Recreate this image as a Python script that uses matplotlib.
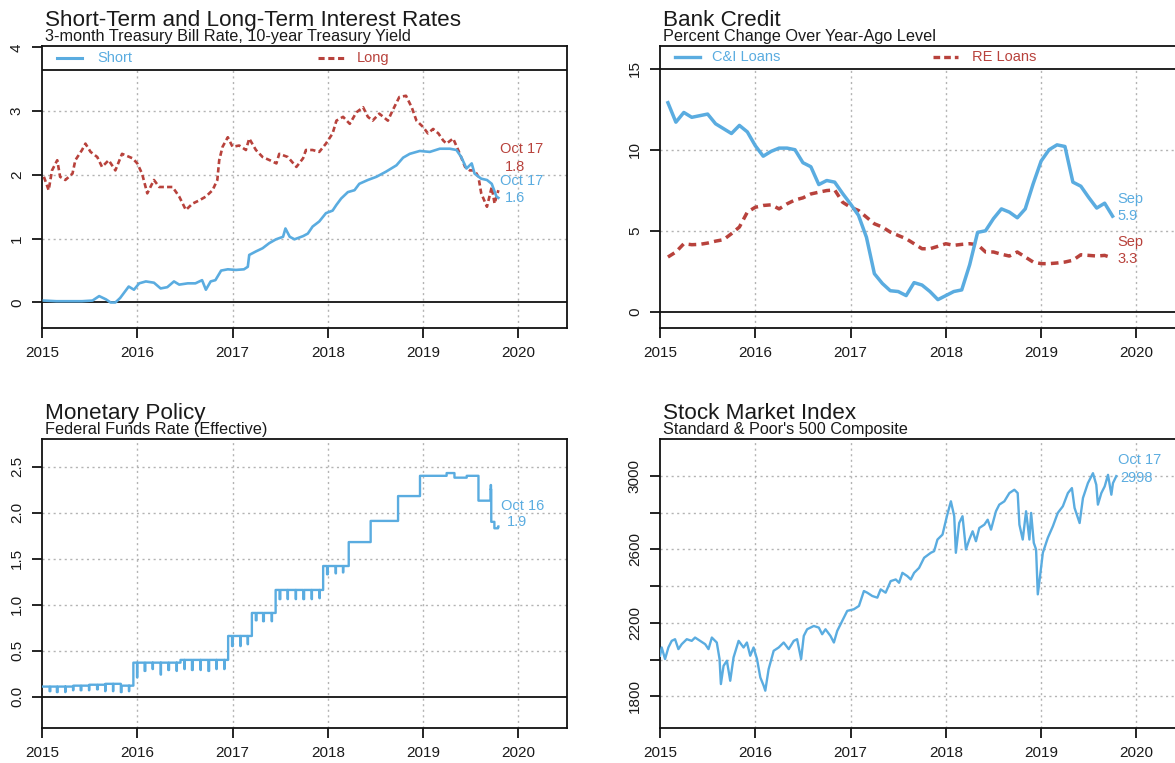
import matplotlib
matplotlib.use("Agg")
import matplotlib.pyplot as plt
import matplotlib.transforms as mtransforms
import numpy as np
import pandas as pd

plt.rcParams['font.family'] = ['Liberation Sans', 'DejaVu Sans']

BLUE = '#5AACE0'
RED = '#B8423C'
DARK = '#1a1a1a'
GRID = '#b3b3b3'

# ---------------- Data ----------------
# Panel 1: 3-month T-bill (short) and 10-year yield (long), decimal years
short_x = [2015.02, 2015.15, 2015.32, 2015.42, 2015.53, 2015.60, 2015.67, 2015.72, 2015.77, 2015.82,
           2015.91, 2015.965, 2016.02, 2016.09, 2016.175, 2016.245, 2016.315, 2016.385, 2016.44, 2016.53,
           2016.61, 2016.68, 2016.72, 2016.77, 2016.82, 2016.88, 2016.95, 2017.035, 2017.12, 2017.16,
           2017.175, 2017.245, 2017.315, 2017.385, 2017.456, 2017.53, 2017.555, 2017.60, 2017.65, 2017.74,
           2017.79, 2017.84, 2017.91, 2017.98, 2018.05, 2018.09, 2018.14, 2018.21, 2018.28, 2018.33,
           2018.42, 2018.51, 2018.61, 2018.72, 2018.79, 2018.86, 2018.965, 2019.07, 2019.175, 2019.28,
           2019.35, 2019.40, 2019.455, 2019.51, 2019.54, 2019.61, 2019.67, 2019.72, 2019.77, 2019.79]
short_v = [0.03, 0.02, 0.02, 0.02, 0.03, 0.10, 0.05, 0.00, 0.00, 0.07,
           0.25, 0.20, 0.30, 0.33, 0.31, 0.22, 0.24, 0.33, 0.28, 0.30,
           0.30, 0.35, 0.20, 0.33, 0.35, 0.50, 0.52, 0.51, 0.52, 0.56,
           0.745, 0.80, 0.85, 0.93, 0.99, 1.03, 1.16, 1.03, 0.99, 1.04,
           1.08, 1.19, 1.27, 1.40, 1.44, 1.53, 1.63, 1.73, 1.76, 1.86,
           1.92, 1.97, 2.05, 2.15, 2.27, 2.33, 2.375, 2.36, 2.41, 2.41,
           2.39, 2.28, 2.10, 2.18, 2.02, 1.94, 1.92, 1.86, 1.66, 1.64]
long_x = [2015.02, 2015.07, 2015.105, 2015.16, 2015.19, 2015.245, 2015.32, 2015.35, 2015.42, 2015.456,
          2015.51, 2015.58, 2015.63, 2015.70, 2015.77, 2015.84, 2015.95, 2016.0, 2016.05, 2016.105,
          2016.175, 2016.23, 2016.30, 2016.37, 2016.44, 2016.51, 2016.58, 2016.65, 2016.72, 2016.79,
          2016.84, 2016.86, 2016.895, 2016.95, 2017.0, 2017.07, 2017.14, 2017.175, 2017.245, 2017.315,
          2017.39, 2017.46, 2017.49, 2017.58, 2017.67, 2017.74, 2017.77, 2017.84, 2017.91, 2017.98,
          2018.05, 2018.09, 2018.16, 2018.23, 2018.30, 2018.37, 2018.42, 2018.47, 2018.54, 2018.63,
          2018.68, 2018.75, 2018.82, 2018.88, 2018.93, 2019.0, 2019.05, 2019.105, 2019.16, 2019.21,
          2019.245, 2019.315, 2019.385, 2019.44, 2019.49, 2019.54, 2019.58, 2019.61, 2019.67, 2019.72,
          2019.75, 2019.79]
long_v = [1.97, 1.76, 2.07, 2.23, 1.97, 1.92, 2.02, 2.23, 2.39, 2.49,
          2.36, 2.28, 2.125, 2.23, 2.07, 2.33, 2.26, 2.18, 2.02, 1.71,
          1.92, 1.81, 1.81, 1.81, 1.66, 1.45, 1.55, 1.60, 1.66, 1.76,
          1.92, 2.23, 2.44, 2.59, 2.44, 2.46, 2.39, 2.57, 2.39, 2.28,
          2.23, 2.18, 2.33, 2.28, 2.125, 2.26, 2.39, 2.39, 2.36, 2.49,
          2.65, 2.85, 2.91, 2.80, 2.98, 3.06, 2.91, 2.85, 2.96, 2.85,
          3.01, 3.22, 3.24, 3.06, 2.85, 2.75, 2.65, 2.72, 2.65, 2.54,
          2.49, 2.57, 2.33, 2.125, 2.07, 2.07, 1.97, 1.71, 1.50, 1.81,
          1.55, 1.76]

# Panel 2: bank credit, % change over year-ago, monthly Jan 2015 - Sep 2019
credit_months = pd.period_range("2015-01", "2019-09", freq="M")
ci_loans = [12.9, 11.7, 12.3, 12.0, 12.1, 12.2, 11.6, 11.3, 11.0, 11.5, 11.1, 10.25,
            9.6, 9.9, 10.1, 10.1, 10.0, 9.2, 8.95, 7.85, 8.1, 8.0, 7.3, 6.65,
            5.95, 4.6, 2.35, 1.75, 1.3, 1.25, 1.0, 1.8, 1.65, 1.25, 0.75, 1.0,
            1.25, 1.35, 2.9, 4.9, 5.0, 5.75, 6.35, 6.15, 5.8, 6.35, 7.9, 9.3,
            10.0, 10.3, 10.2, 8.0, 7.75, 7.05, 6.4, 6.7, 5.9]
re_loans = [3.38, 3.69, 4.2, 4.14, 4.16, 4.24, 4.36, 4.45, 4.82, 5.23, 6.15, 6.45,
            6.56, 6.6, 6.35, 6.66, 6.9, 7.03, 7.27, 7.38, 7.48, 7.52, 6.76, 6.45,
            6.25, 5.84, 5.43, 5.23, 4.92, 4.71, 4.51, 4.2, 3.89, 3.89, 4.04, 4.2,
            4.1, 4.16, 4.2, 4.14, 3.69, 3.69, 3.55, 3.44, 3.69, 3.38, 3.07, 2.97,
            2.97, 3.01, 3.07, 3.18, 3.52, 3.48, 3.44, 3.48, 3.32]

# Panel 3: effective federal funds rate (daily step series)
ff_change_dates = ["2015-01-01", "2015-03-01", "2015-05-01", "2015-07-01", "2015-09-01", "2015-11-01",
                   "2015-12-17", "2016-06-15", "2016-12-15", "2017-03-16", "2017-06-15", "2017-12-14",
                   "2018-03-22", "2018-06-14", "2018-09-27", "2018-12-20", "2019-04-01", "2019-05-01",
                   "2019-06-15", "2019-08-01", "2019-09-16", "2019-09-17", "2019-09-18", "2019-09-19",
                   "2019-10-01", "2019-10-15"]
ff_levels = [0.11, 0.11, 0.12, 0.13, 0.14, 0.12,
             0.37, 0.40, 0.66, 0.91, 1.16, 1.42,
             1.68, 1.91, 2.18, 2.40, 2.43, 2.38,
             2.40, 2.13, 2.25, 2.30, 2.25, 1.90,
             1.83, 1.85]
ff_dip_months = ["2015-01", "2015-02", "2015-03", "2015-04", "2015-05", "2015-06", "2015-07", "2015-08",
                 "2015-09", "2015-10", "2015-11", "2015-12",
                 "2016-01", "2016-02", "2016-03", "2016-04", "2016-05", "2016-06", "2016-07", "2016-08",
                 "2016-09", "2016-10", "2016-11", "2016-12",
                 "2017-01", "2017-02", "2017-03", "2017-04", "2017-05", "2017-06", "2017-07", "2017-08",
                 "2017-09", "2017-10", "2017-11", "2017-12", "2018-01", "2018-02"]
ff_dip_values = [0.06, 0.05, 0.05, 0.07, 0.07, 0.07, 0.08, 0.06, 0.06, 0.05, 0.06, 0.21,
                 0.28, 0.30, 0.24, 0.29, 0.28, 0.30, 0.29, 0.29, 0.28, 0.30, 0.30, 0.55,
                 0.55, 0.57, 0.83, 0.82, 0.82, 1.06, 1.06, 1.06, 1.06, 1.06, 1.07, 1.33,
                 1.34, 1.35]
ff_start, ff_end = "2015-01-02", "2019-10-16"

# Panel 4: S&P 500 composite
spx_x = [2015.000, 2015.018, 2015.053, 2015.088, 2015.123, 2015.158, 2015.193, 2015.228, 2015.281, 2015.333,
         2015.368, 2015.421, 2015.474, 2015.509, 2015.544, 2015.596, 2015.625, 2015.639, 2015.667, 2015.702,
         2015.737, 2015.772, 2015.825, 2015.877, 2015.912, 2015.947, 2015.982, 2016.018, 2016.053, 2016.088,
         2016.105, 2016.140, 2016.193, 2016.246, 2016.298, 2016.351, 2016.404, 2016.439, 2016.481, 2016.509,
         2016.544, 2016.614, 2016.667, 2016.702, 2016.737, 2016.789, 2016.825, 2016.860, 2016.912, 2016.965,
         2017.035, 2017.088, 2017.140, 2017.175, 2017.228, 2017.281, 2017.316, 2017.368, 2017.421, 2017.474,
         2017.509, 2017.544, 2017.596, 2017.632, 2017.667, 2017.719, 2017.772, 2017.842, 2017.877, 2017.912,
         2017.965, 2018.011, 2018.053, 2018.088, 2018.105, 2018.140, 2018.175, 2018.211, 2018.246, 2018.281,
         2018.316, 2018.351, 2018.404, 2018.439, 2018.474, 2018.526, 2018.561, 2018.614, 2018.667, 2018.719,
         2018.754, 2018.772, 2018.807, 2018.842, 2018.877, 2018.895, 2018.923, 2018.947, 2018.965, 2018.993,
         2019.018, 2019.070, 2019.123, 2019.175, 2019.228, 2019.281, 2019.323, 2019.351, 2019.404, 2019.439,
         2019.491, 2019.544, 2019.579, 2019.596, 2019.632, 2019.667, 2019.702, 2019.737, 2019.754, 2019.789]
spx_v = [2021, 2066, 2003, 2066, 2102, 2111, 2057, 2084, 2111, 2102,
         2120, 2102, 2084, 2057, 2120, 2093, 2003, 1867, 1966, 1994,
         1885, 2012, 2102, 2066, 2093, 2021, 2066, 2003, 1903, 1858,
         1831, 1948, 2048, 2066, 2093, 2057, 2102, 2111, 2003, 2129,
         2165, 2183, 2174, 2138, 2165, 2129, 2093, 2156, 2210, 2265,
         2274, 2292, 2373, 2364, 2346, 2337, 2382, 2364, 2427, 2436,
         2418, 2472, 2454, 2436, 2472, 2499, 2554, 2581, 2590, 2653,
         2680, 2780, 2861, 2780, 2581, 2743, 2780, 2599, 2653, 2698,
         2644, 2716, 2734, 2761, 2707, 2807, 2843, 2861, 2906, 2924,
         2906, 2734, 2653, 2807, 2653, 2798, 2635, 2599, 2355, 2472,
         2581, 2662, 2725, 2798, 2834, 2906, 2933, 2825, 2743, 2879,
         2960, 3014, 2951, 2843, 2906, 2942, 3005, 2897, 2960, 2998]

years = list(range(2015, 2021))

# ---------------- Figure ----------------
W, H = 1175, 763
fig = plt.figure(figsize=(W / 100, H / 100), dpi=100)


def axes_px(left, top, right, bottom):
    return fig.add_axes([left / W, 1 - bottom / H, (right - left) / W, (bottom - top) / H])


XMAX = 2020.51
TITLE_FS = 16.2
SUB_FS = 11.7


def style(ax, ylim, yticks, ylabels, grid_top, zero_line=True):
    ax.set_xlim(2015, XMAX)
    ax.set_ylim(*ylim)
    ax.set_xticks(years)
    ax.set_xticklabels([str(y) for y in years])
    ax.set_yticks(yticks)
    ax.set_yticklabels(ylabels, rotation=90, va='center')
    ax.tick_params(direction='out', length=7, width=1.2, labelsize=11, labelcolor=DARK, pad=6)
    for s in ax.spines.values():
        s.set_linewidth(1.3)
        s.set_color('#111111')
    ax.vlines(years[1:], ylim[0], grid_top, colors=GRID, linestyles=(0, (1.5, 2.5)), lw=1.0, zorder=1)
    hl = [t for t in yticks if t != 0 and t < grid_top]
    ax.hlines(hl, 2015, XMAX, colors=GRID, linestyles=(0, (1.5, 2.5)), lw=1.0, zorder=1)
    if zero_line:
        ax.axhline(0, color='#111111', lw=1.3, zorder=2)


def legend(ax, y_line, entries):
    ax.axhline(y_line, color='#111111', lw=1.3, zorder=3)
    top = ax.get_ylim()[1]
    ym = (y_line + top) / 2
    tr = mtransforms.blended_transform_factory(ax.transAxes, ax.transData)
    for x0, x1, xt, label, color, kw in entries:
        ax.plot([x0, x1], [ym, ym], color=color, transform=tr, **kw)
        ax.text(xt, ym, label, color=color, transform=tr, fontsize=10.5, va='center', ha='left')


def titles(x_px, base_px, title, sub):
    fig.text(x_px / W, 1 - base_px / H, title, fontsize=TITLE_FS, color=DARK, va='baseline')
    fig.text(x_px / W, 1 - (base_px + 15) / H, sub, fontsize=SUB_FS, color=DARK, va='baseline')


# Panel 1
ax1 = axes_px(42, 46, 567, 328)
style(ax1, (-0.4, 4.02), [0, 1, 2, 3, 4], ['0', '1', '2', '3', '4'], 3.65)
ax1.plot(long_x, long_v, color=RED, lw=1.9, dashes=(2.0, 1.2), zorder=4)
ax1.plot(short_x, short_v, color=BLUE, lw=1.9, zorder=5)
legend(ax1, 3.65, [(0.029, 0.076, 0.105, 'Short', BLUE, dict(lw=2.2)),
                   (0.526, 0.575, 0.600, 'Long', RED, dict(lw=2.2, dashes=(2.0, 1.2)))])
ax1.text(2019.806, 2.40, 'Oct 17', color=RED, fontsize=10.5, va='center', ha='left')
ax1.text(2019.86, 2.12, '1.8', color=RED, fontsize=10.5, va='center', ha='left')
ax1.text(2019.806, 1.90, 'Oct 17', color=BLUE, fontsize=10.5, va='center', ha='left')
ax1.text(2019.86, 1.63, '1.6', color=BLUE, fontsize=10.5, va='center', ha='left')
titles(45, 26, 'Short-Term and Long-Term Interest Rates', '3-month Treasury Bill Rate, 10-year Treasury Yield')

# Panel 2
ax2 = axes_px(660, 46, 1185, 328)
style(ax2, (-1.0, 16.4), [0, 5, 10, 15], ['0', '5', '10', '15'], 15)
credit_x = [p.year + p.month / 12 for p in credit_months]
ax2.plot(credit_x, re_loans, color=RED, lw=2.5, dashes=(2.2, 1.5), zorder=4)
ax2.plot(credit_x, ci_loans, color=BLUE, lw=2.5, zorder=5)
legend(ax2, 15, [(0.029, 0.076, 0.099, 'C&I Loans', BLUE, dict(lw=2.4)),
                 (0.520, 0.568, 0.594, 'RE Loans', RED, dict(lw=2.4, dashes=(2.0, 1.2)))])
ax2.text(2019.80, 6.93, 'Sep', color=BLUE, fontsize=10.5, va='center', ha='left')
ax2.text(2019.80, 5.89, '5.9', color=BLUE, fontsize=10.5, va='center', ha='left')
ax2.text(2019.80, 4.29, 'Sep', color=RED, fontsize=10.5, va='center', ha='left')
ax2.text(2019.80, 3.24, '3.3', color=RED, fontsize=10.5, va='center', ha='left')
titles(663, 26, 'Bank Credit', 'Percent Change Over Year-Ago Level')

# Panel 3
ax3 = axes_px(42, 439, 567, 728)
style(ax3, (-0.34, 2.8), [0, 0.5, 1.0, 1.5, 2.0, 2.5], ['0.0', '0.5', '1.0', '1.5', '2.0', '2.5'], 2.8)
days = pd.bdate_range(ff_start, ff_end)
ff = pd.Series(np.nan, index=days)
for d, v in zip(ff_change_dates, ff_levels):
    ff[ff.index >= pd.Timestamp(d)] = v
periods = days.to_period('M')
for m, v in zip(ff_dip_months, ff_dip_values):
    last_day = days[periods == pd.Period(m, 'M')][-1]
    ff[last_day] = v
ndays = np.where(days.is_leap_year, 366, 365)
ff_x = days.year + (days.dayofyear - 1) / ndays
ax3.plot(ff_x, ff.values, color=BLUE, lw=1.7, drawstyle='steps-post', zorder=5)
ax3.text(2019.815, 2.07, 'Oct 16', color=BLUE, fontsize=10.5, va='center', ha='left')
ax3.text(2019.88, 1.90, '1.9', color=BLUE, fontsize=10.5, va='center', ha='left')
titles(45, 419, 'Monetary Policy', 'Federal Funds Rate (Effective)')

# Panel 4
ax4 = axes_px(660, 439, 1185, 728)
spx_ticks = list(range(1800, 3001, 200))
spx_labels = [str(t) if t in (1800, 2200, 2600, 3000) else '' for t in spx_ticks]
style(ax4, (1628, 3200), spx_ticks, spx_labels, 3200, zero_line=False)
ax4.plot(spx_x, spx_v, color=BLUE, lw=1.7, zorder=5)
ax4.text(2019.81, 3087, 'Oct 17', color=BLUE, fontsize=10.5, va='center', ha='left')
ax4.text(2019.83, 2989, '2998', color=BLUE, fontsize=10.5, va='center', ha='left')
titles(663, 419, 'Stock Market Index', "Standard & Poor's 500 Composite")

fig.savefig('out.png', dpi=100)
